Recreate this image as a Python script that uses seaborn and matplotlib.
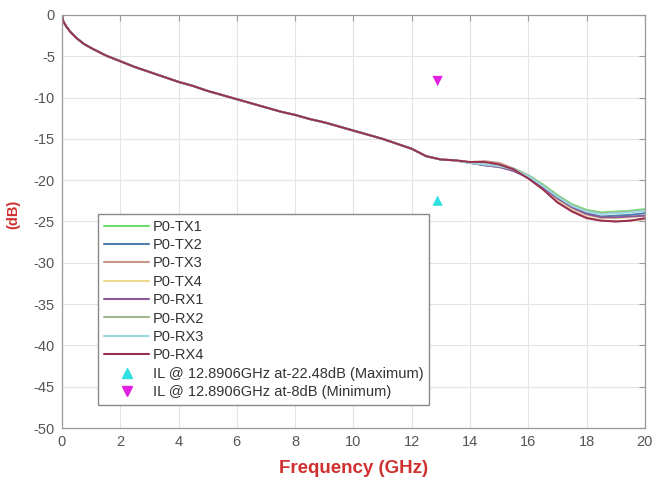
import numpy as np
import pandas as pd
import matplotlib
matplotlib.use("Agg")
import matplotlib.pyplot as plt
import seaborn as sns
from matplotlib.lines import Line2D

freq = [0, 0.05, 0.15, 0.3, 0.5, 0.75, 1, 1.5, 2, 2.5, 3, 3.5, 4, 4.5, 5, 5.5, 6, 6.5, 7, 7.5,
        8, 8.5, 9, 9.5, 10, 10.5, 11, 11.5, 12, 12.5, 13, 13.5, 14, 14.5, 15, 15.5, 16, 16.5,
        17, 17.5, 18, 18.5, 19, 19.5, 20]

common = [0, -0.8, -1.4, -2.1, -2.8, -3.5, -4.0, -4.9, -5.6, -6.3, -6.9, -7.5, -8.1, -8.6, -9.2,
          -9.7, -10.2, -10.7, -11.2, -11.7, -12.1, -12.6, -13.0, -13.5, -14.0, -14.5, -15.0,
          -15.6, -16.2, -17.1, -17.5, -17.6]

tx1 = common + [-17.9, -18.1, -18.3, -18.6, -19.4, -20.5, -21.8, -22.9, -23.6, -23.9, -23.8, -23.7, -23.5]
tx2 = common + [-17.9, -18.2, -18.4, -18.8, -19.6, -20.8, -22.1, -23.2, -24.0, -24.4, -24.3, -24.2, -24.0]
tx3 = common + [-17.8, -17.7, -17.9, -18.6, -19.7, -21.1, -22.6, -23.7, -24.5, -24.9, -25.0, -24.9, -24.7]
tx4 = common + [-17.9, -18.1, -18.4, -18.8, -19.6, -20.9, -22.3, -23.4, -24.2, -24.6, -24.6, -24.5, -24.3]
rx1 = common + [-17.9, -18.2, -18.4, -18.9, -19.7, -20.9, -22.2, -23.3, -24.1, -24.5, -24.5, -24.4, -24.3]
rx2 = common + [-17.9, -18.1, -18.2, -18.6, -19.4, -20.6, -21.9, -23.0, -23.7, -24.0, -23.9, -23.8, -23.6]
rx3 = common + [-17.9, -18.1, -18.3, -18.7, -19.5, -20.7, -22.0, -23.1, -23.8, -24.1, -24.0, -23.9, -23.7]
rx4 = common + [-17.8, -17.8, -18.1, -18.7, -19.8, -21.1, -22.7, -23.8, -24.6, -24.9, -25.0, -24.9, -24.6]

series_names = ["P0-TX1", "P0-TX2", "P0-TX3", "P0-TX4", "P0-RX1", "P0-RX2", "P0-RX3", "P0-RX4"]
series_values = [tx1, tx2, tx3, tx4, rx1, rx2, rx3, rx4]
colors = ["#6fdc6f", "#4f7eaa", "#c89488", "#f0d890", "#8a5a9c", "#a0b890", "#98d8e0", "#9a3050"]

marker_freq = [12.8906, 12.8906]
marker_db = [-22.48, -8.0]
marker_labels = ["IL @ 12.8906GHz at-22.48dB (Maximum)", "IL @ 12.8906GHz at-8dB (Minimum)"]

rows = []
for name, vals in zip(series_names, series_values):
    for f, v in zip(freq, vals):
        rows.append({"Frequency": f, "dB": v, "Series": name})
df = pd.DataFrame(rows)

sns.set_style("white")
plt.rcParams['font.family'] = ['Liberation Sans', 'DejaVu Sans']
plt.rcParams['axes.unicode_minus'] = False

fig = plt.figure(figsize=(6.52, 4.82), dpi=100)
ax = fig.add_axes([0.095, 0.112, 0.894, 0.857])

sns.lineplot(data=df, x="Frequency", y="dB", hue="Series", hue_order=series_names,
             palette=dict(zip(series_names, colors)), linewidth=1.4, ax=ax, legend=False,
             estimator=None, sort=False)

mk = pd.DataFrame({"f": marker_freq, "db": marker_db, "lab": marker_labels})
sns.scatterplot(data=mk.iloc[[0]], x="f", y="db", marker="^", color="#2fe0e0", s=55,
                edgecolor="none", ax=ax, legend=False, zorder=5)
sns.scatterplot(data=mk.iloc[[1]], x="f", y="db", marker="v", color="#e020e0", s=55,
                edgecolor="none", ax=ax, legend=False, zorder=5)

ax.set_xlim(0, 20)
ax.set_ylim(-50, 0)
ax.set_xticks(np.arange(0, 21, 2))
ax.set_yticks(np.arange(-50, 1, 5))
ax.grid(True, color="#e4e4e4", linewidth=0.8)
ax.set_axisbelow(True)
for s in ax.spines.values():
    s.set_color("#9a9a9a")
    s.set_linewidth(0.9)
ax.tick_params(direction="in", top=True, right=True, length=4, colors="#9a9a9a",
               labelcolor="#555555", labelsize=10.5, pad=5)

ax.set_xlabel("Frequency (GHz)", color="#d03030", fontsize=13.5, fontweight="bold")
ax.xaxis.set_label_coords(0.5, -0.077)
ax.set_ylabel("(dB)", color="#d03030", fontsize=10.5, fontweight="bold")
ax.yaxis.set_label_coords(-0.071, 0.518)

handles = [Line2D([], [], color=c, linewidth=1.5) for c in colors]
handles += [Line2D([], [], linestyle="none", marker="^", color="#2fe0e0", markersize=7),
            Line2D([], [], linestyle="none", marker="v", color="#e020e0", markersize=7)]
leg = ax.legend(handles, series_names + marker_labels, loc="lower left",
                bbox_to_anchor=(0.062, 0.056), borderaxespad=0, fontsize=10.5,
                handlelength=3.1, labelspacing=0.3, handletextpad=0.25, borderpad=0.4,
                frameon=True, fancybox=False, framealpha=1, edgecolor="#888888")
for t in leg.get_texts():
    t.set_color("#333333")

fig.savefig("out.png", dpi=100)
